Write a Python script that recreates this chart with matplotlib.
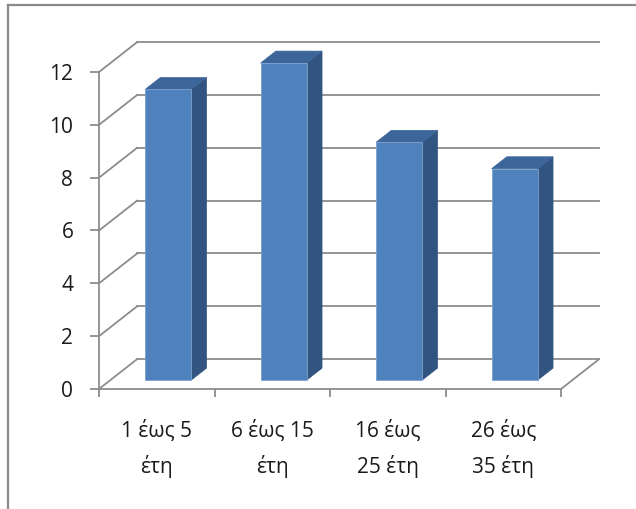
import matplotlib
matplotlib.use("Agg")
from matplotlib import pyplot as plt
from matplotlib.patches import Polygon
from matplotlib.lines import Line2D

plt.rcParams['font.family'] = ['Open Sans', 'DejaVu Sans']

labels = ["1 έως 5\nέτη", "6 έως 15\nέτη", "16 έως\n25 έτη", "26 έως\n35 έτη"]
values = [11, 12, 9, 8]
yticks = [0, 2, 4, 6, 8, 10, 12]

grid_col = '#8c8c8c'
front_col = '#4f81bd'
top_col = '#3c669a'
side_col = '#325480'

# depth of the 3d box, in data units
dx = 0.33
dy = 1.13
# bar sits between 30% and 70% of the depth
d0 = 0.3
d1 = 0.7
w = 0.4

fig = plt.figure(figsize=(6.36, 5.09), dpi=100)
ax = fig.add_axes([99/636, (509-389)/509, (561-99)/636, (389-72)/509])
ax.set_xlim(-0.5, 3.5)
ax.set_ylim(0, 12)

# back wall and side wall gridlines
for v in yticks:
    ax.plot([-0.5+dx, 3.5+dx], [v+dy, v+dy], color=grid_col, lw=1.3, clip_on=False, zorder=1)
    ax.plot([-0.5, -0.5+dx], [v, v+dy], color=grid_col, lw=1.3, clip_on=False, zorder=1)
# right edge of the floor
ax.plot([3.5, 3.5+dx], [0, dy], color=grid_col, lw=1.3, clip_on=False, zorder=1)

# 3d columns
for i, v in enumerate(values):
    x0 = i - w/2 + d0*dx
    x1 = i + w/2 + d0*dx
    b = d0*dy
    ddx = (d1-d0)*dx
    ddy = (d1-d0)*dy
    front = Polygon([(x0, b), (x1, b), (x1, b+v), (x0, b+v)], closed=True,
                    facecolor=front_col, edgecolor='#7ba0d0', lw=0.6, clip_on=False, zorder=3)
    side = Polygon([(x1, b), (x1+ddx, b+ddy), (x1+ddx, b+v+ddy), (x1, b+v)], closed=True,
                   facecolor=side_col, edgecolor=side_col, lw=0.5, clip_on=False, zorder=3)
    top = Polygon([(x0, b+v), (x1, b+v), (x1+ddx, b+v+ddy), (x0+ddx, b+v+ddy)], closed=True,
                  facecolor=top_col, edgecolor=top_col, lw=0.5, clip_on=False, zorder=3)
    ax.add_patch(side)
    ax.add_patch(top)
    ax.add_patch(front)

for s in ['top', 'right']:
    ax.spines[s].set_visible(False)
for s in ['left', 'bottom']:
    ax.spines[s].set_color(grid_col)
    ax.spines[s].set_linewidth(1.3)
    ax.spines[s].set_zorder(4)

ax.set_yticks(yticks)
ax.tick_params(axis='y', direction='out', length=6.5, width=1.3, color=grid_col,
               labelsize=15, pad=12, labelcolor='#1a1a1a')
ax.set_xticks([-0.5, 0.5, 1.5, 2.5, 3.5])
ax.set_xticklabels([])
ax.tick_params(axis='x', which='major', direction='out', length=6, width=1.3, color=grid_col)
ax.set_xticks(range(4), labels, minor=True)
ax.tick_params(axis='x', which='minor', length=0, pad=22, labelsize=15, labelcolor='#1a1a1a')
for t in ax.get_xticklabels(minor=True):
    t.set_linespacing(1.75)
ax.patch.set_visible(False)

# chart area border
fig.add_artist(Line2D([8/636, 8/636], [0, 1-5/509], color='#8a8a8a', lw=1.6))
fig.add_artist(Line2D([8/636, 1], [1-5/509, 1-5/509], color='#8a8a8a', lw=1.6))

plt.savefig('out.png', dpi=100)
